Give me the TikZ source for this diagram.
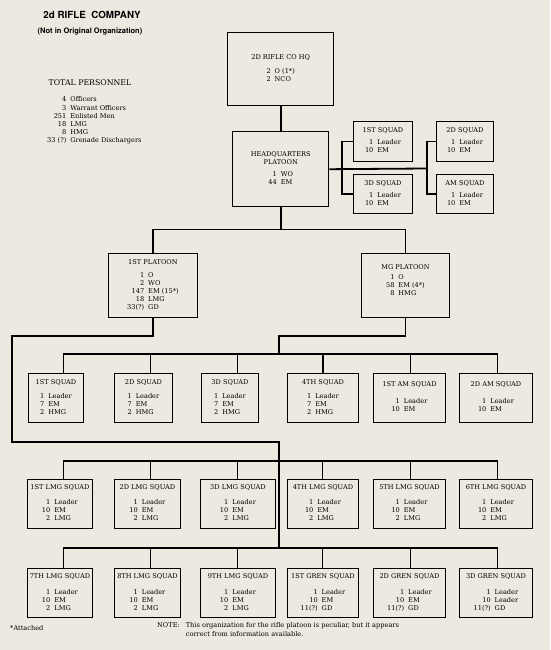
\documentclass[tikz,border=0pt]{standalone}
\usepackage{fontspec}
\setmainfont{DejaVu Serif}
\setsansfont{TeX Gyre Heros}
\usetikzlibrary{positioning}
\definecolor{paper}{RGB}{236,233,225}
\newcommand{\crew}[1]{\begin{tabular}{@{}r@{\hspace{4pt}}l@{}}#1\end{tabular}}
\tikzset{
  unit/.style = {draw, line width=0.9pt, anchor=north west, align=center,
    inner sep=0pt, font=\fontsize{6.6}{8}\selectfont},
  hqunit/.style = {unit, line width=1.4pt},
  link/.style = {line width=1.8pt},
  caption/.style = {inner sep=0pt, font=\fontsize{6.6}{8.2}\selectfont},
}

\begin{document}
\begin{tikzpicture}[x=1pt, y=-1pt]
  \useasboundingbox (0,0) rectangle (550,650);
  \fill[paper] (0,0) rectangle (550,650);

  \node[inner sep=0pt, font=\sffamily\bfseries\fontsize{9.8}{11}\selectfont] (title) at (92,15) {2d RIFLE\ \ COMPANY};
  \node[inner sep=0pt, font=\sffamily\bfseries\fontsize{7.5}{9}\selectfont] (subtitle) at (90,32) {(Not in Original Organization)};
  \node[caption, font=\fontsize{7.8}{9}\selectfont] (tot) at (90,83) {TOTAL PERSONNEL};
  \node[caption, anchor=north west] (totlist) at (47,96) {\crew{4&Officers\\3&Warrant Officers\\251&Enlisted Men\\18&LMG\\8&HMG\\33 (?)&Grenade Dischargers}};

  % company hq and hq platoon
  \node[hqunit, minimum width=106, minimum height=73] (hq) at (227,32) {2D RIFLE CO HQ\\[7pt]\crew{2&O (1*)\\2&NCO}};
  \node[hqunit, minimum width=96, minimum height=75] (hqpl) at (232,131) {HEADQUARTERS\\PLATOON\\[5pt]\crew{1&WO\\44&EM}};
  \node[unit, minimum width=59, minimum height=40] (hs1) at (353,121) {1ST SQUAD\\[4pt]\crew{1&Leader\\10&EM}};
  \node[unit, minimum width=57, minimum height=40] (hs2) at (436,121) {2D SQUAD\\[4pt]\crew{1&Leader\\10&EM}};
  \node[unit, minimum width=59, minimum height=39] (hs3) at (353,174) {3D SQUAD\\[4pt]\crew{1&Leader\\10&EM}};
  \node[unit, minimum width=57, minimum height=39] (hsam) at (436,174) {AM SQUAD\\[4pt]\crew{1&Leader\\10&EM}};

  % platoons
  \node[unit, minimum width=89, minimum height=64] (pl1) at (108,253) {1ST PLATOON\\[6pt]\crew{1&O\\2&WO\\147&EM (15*)\\18&LMG\\33(?)&GD}};
  \node[unit, minimum width=88, minimum height=64] (mgpl) at (361,253) {MG PLATOON\\[3pt]\crew{1&O\\58&EM (4*)\\8&HMG\\&}};

  % squads of the mg platoon
  \node[unit, minimum width=55, minimum height=49] (s1) at (28,373) {1ST SQUAD\\[6pt]\crew{1&Leader\\7&EM\\2&HMG}};
  \node[unit, minimum width=58, minimum height=49] (s2) at (114,373) {2D SQUAD\\[6pt]\crew{1&Leader\\7&EM\\2&HMG}};
  \node[unit, minimum width=57, minimum height=49] (s3) at (201,373) {3D SQUAD\\[6pt]\crew{1&Leader\\7&EM\\2&HMG}};
  \node[unit, minimum width=71, minimum height=49] (s4) at (287,373) {4TH SQUAD\\[6pt]\crew{1&Leader\\7&EM\\2&HMG}};
  \node[unit, minimum width=72, minimum height=49] (s5) at (373,373) {1ST AM SQUAD\\[9pt]\crew{1&Leader\\10&EM}};
  \node[unit, minimum width=73, minimum height=49] (s6) at (459,373) {2D AM SQUAD\\[9pt]\crew{1&Leader\\10&EM}};

  % lmg squads
  \node[unit, minimum width=65, minimum height=49] (l1) at (27,479) {1ST LMG SQUAD\\[7pt]\crew{1&Leader\\10&EM\\2&LMG}};
  \node[unit, minimum width=66, minimum height=49] (l2) at (114,479) {2D LMG SQUAD\\[7pt]\crew{1&Leader\\10&EM\\2&LMG}};
  \node[unit, minimum width=75, minimum height=49] (l3) at (200,479) {3D LMG SQUAD\\[7pt]\crew{1&Leader\\10&EM\\2&LMG}};
  \node[unit, minimum width=71, minimum height=49] (l4) at (287,479) {4TH LMG SQUAD\\[7pt]\crew{1&Leader\\10&EM\\2&LMG}};
  \node[unit, minimum width=72, minimum height=49] (l5) at (373,479) {5TH LMG SQUAD\\[7pt]\crew{1&Leader\\10&EM\\2&LMG}};
  \node[unit, minimum width=73, minimum height=49] (l6) at (459,479) {6TH LMG SQUAD\\[7pt]\crew{1&Leader\\10&EM\\2&LMG}};

  % lmg and grenade squads
  \node[unit, minimum width=65, minimum height=49] (g1) at (27,568) {7TH LMG SQUAD\\[8pt]\crew{1&Leader\\10&EM\\2&LMG}};
  \node[unit, minimum width=66, minimum height=49] (g2) at (114,568) {8TH LMG SQUAD\\[8pt]\crew{1&Leader\\10&EM\\2&LMG}};
  \node[unit, minimum width=75, minimum height=49] (g3) at (200,568) {9TH LMG SQUAD\\[8pt]\crew{1&Leader\\10&EM\\2&LMG}};
  \node[unit, minimum width=71, minimum height=49] (g4) at (287,568) {1ST GREN SQUAD\\[8pt]\crew{1&Leader\\10&EM\\11(?)&GD}};
  \node[unit, minimum width=72, minimum height=49] (g5) at (373,568) {2D GREN SQUAD\\[8pt]\crew{1&Leader\\10&EM\\11(?)&GD}};
  \node[unit, minimum width=73, minimum height=49] (g6) at (459,568) {3D GREN SQUAD\\[8pt]\crew{1&Leader\\10&Leader\\11(?)&GD}};

  \node[caption, anchor=west] (attached) at (10,628) {*Attached};
  \node[caption, anchor=north west] (note) at (157,622) {\begin{tabular}{@{}l@{\hspace{6pt}}l@{}}NOTE:&This organization for the rifle platoon is peculiar, but it appears\\&correct from information available.\end{tabular}};

  % connectors
  \coordinate (hqbr) at (427,168.5);
  \coordinate (mgbus) at (279,354);
  \coordinate (ltrunk) at (12,442);
  \coordinate (grnbus) at (279,548);
  \draw[link] (hq.south) -- (hqpl.north);
  \draw[link] (hqpl.east) -- (hqbr);
  \draw[link] (hs1.west) -- ++(-11,0) |- (hs3.west);
  \draw[link] (hs2.west) -- ++(-9,0) |- (hsam.west);
  \draw[link] (hqpl.south) -- ++(0,22) coordinate (plbus) -| (pl1.north);
  \draw[link] (plbus) -| (mgpl.north);
  \draw[link] (mgpl.south) -- ++(0,18) -| (mgbus);
  \draw[link] ([xshift=7.5]s1.north) -- ++(0,-19) -| ([xshift=1.5]s6.north);
  \foreach \n/\s in {s2/7, s3/7.5, s4/0, s5/1}
    \draw[link] ([xshift=\s]\n.north) -- ++(0,-19);
  \draw[link] (pl1.south) -- ++(0,18) -| (ltrunk) -| (grnbus);
  \draw[link] ([xshift=3.5]l1.north) -- ++(0,-18) -| ([xshift=1.5]l6.north);
  \draw[link] ([xshift=3.5]g1.north) -- ++(0,-20) -| ([xshift=1.5]g6.north);
  \foreach \n/\s in {2/3, 3/-0.5, 4/-0.5, 5/1} {
    \draw[link] ([xshift=\s]l\n.north) -- ++(0,-18);
    \draw[link] ([xshift=\s]g\n.north) -- ++(0,-20);
  }
\end{tikzpicture}
\end{document}
